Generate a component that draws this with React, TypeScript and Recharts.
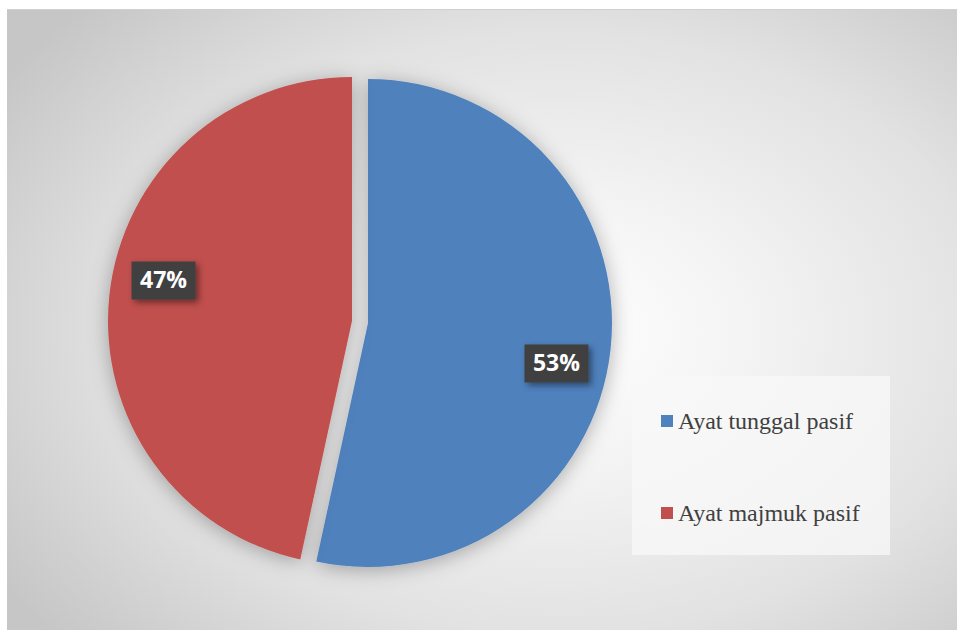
import React from "react";
import { PieChart, Pie, Cell } from "recharts";

const categories = ["Ayat tunggal pasif", "Ayat majmuk pasif"];
const values = [53.4, 46.6];
const colors = ["#4f81bd", "#c0504d"];

const data = categories.map((name, i) => ({ name, value: values[i] }));

const RADIAN = Math.PI / 180;

const makeLabel = (only: number) => (props: any) => {
  const { cx, cy, midAngle, outerRadius, index, percent } = props;
  if (index !== only) return null;
  const ang = (midAngle - 6) * RADIAN;
  const r = outerRadius * 0.79;
  const x = cx + r * Math.cos(ang);
  const y = cy - r * Math.sin(ang);
  const w = 64;
  const h = 38;
  return (
    <g>
      <rect
        x={x - w / 2}
        y={y - h / 2}
        width={w}
        height={h}
        fill="#404040"
        filter="url(#lblShadow)"
      />
      <text
        x={x}
        y={y + 1}
        textAnchor="middle"
        dominantBaseline="middle"
        fill="#ffffff"
        fontFamily="'Open Sans', 'DejaVu Sans', sans-serif"
        fontWeight={700}
        fontSize={23}
      >
        {`${Math.round(percent * 100)}%`}
      </text>
    </g>
  );
};

export default function App() {
  return (
    <div style={{ position: "absolute", left: 0, top: 0, width: 957, height: 630, background: "#ffffff", overflow: "hidden" }}>
      <svg width={0} height={0} style={{ position: "absolute" }}>
        <defs>
          <filter id="pieShadow" x="-20%" y="-20%" width="140%" height="140%">
            <feDropShadow dx="0" dy="3" stdDeviation="10" floodColor="#000000" floodOpacity="0.3" />
          </filter>
          <filter id="lblShadow" x="-30%" y="-30%" width="160%" height="160%">
            <feDropShadow dx="3" dy="3" stdDeviation="3" floodColor="#000000" floodOpacity="0.45" />
          </filter>
        </defs>
      </svg>
      <div
        style={{
          position: "absolute",
          left: 7,
          top: 9,
          width: 950,
          height: 621,
          borderTop: "1px solid #d0d0d0",
          boxSizing: "border-box",
          background: "radial-gradient(ellipse 70% 75% at 58% 52%, #ffffff 0%, #f3f3f3 30%, #e2e2e2 65%, #c6c6c6 100%)",
        }}
      />
      <div style={{ position: "absolute", left: 0, top: 0 }}>
        <PieChart width={957} height={630} margin={{ top: 0, right: 0, bottom: 0, left: 0 }}>
          <Pie
            data={data}
            dataKey="value"
            nameKey="name"
            cx={368}
            cy={323}
            outerRadius={244}
            startAngle={90}
            endAngle={-270}
            stroke="none"
            isAnimationActive={false}
            label={makeLabel(0)}
            labelLine={false}
          >
            {data.map((d, i) => (
              <Cell key={d.name} fill={i === 0 ? colors[0] : "transparent"} filter={i === 0 ? "url(#pieShadow)" : undefined} />
            ))}
          </Pie>
          <Pie
            data={data}
            dataKey="value"
            nameKey="name"
            cx={352}
            cy={321}
            outerRadius={244}
            startAngle={90}
            endAngle={-270}
            stroke="none"
            isAnimationActive={false}
            label={makeLabel(1)}
            labelLine={false}
          >
            {data.map((d, i) => (
              <Cell key={d.name} fill={i === 1 ? colors[1] : "transparent"} filter={i === 1 ? "url(#pieShadow)" : undefined} />
            ))}
          </Pie>
        </PieChart>
      </div>
      <div
        style={{
          position: "absolute",
          left: 632,
          top: 376,
          width: 258,
          height: 179,
          background: "rgba(248,248,248,0.75)",
        }}
      >
        {categories.map((c, i) => (
          <div
            key={c}
            style={{
              position: "absolute",
              left: 29,
              top: 31 + i * 92,
              display: "flex",
              alignItems: "center",
              fontFamily: "'Liberation Serif', 'Times New Roman', serif",
              fontSize: 24,
              color: "#404040",
              whiteSpace: "nowrap",
              lineHeight: "28px",
            }}
          >
            <span style={{ display: "inline-block", width: 12, height: 12, background: colors[i], marginRight: 5 }} />
            {c}
          </div>
        ))}
      </div>
    </div>
  );
}
